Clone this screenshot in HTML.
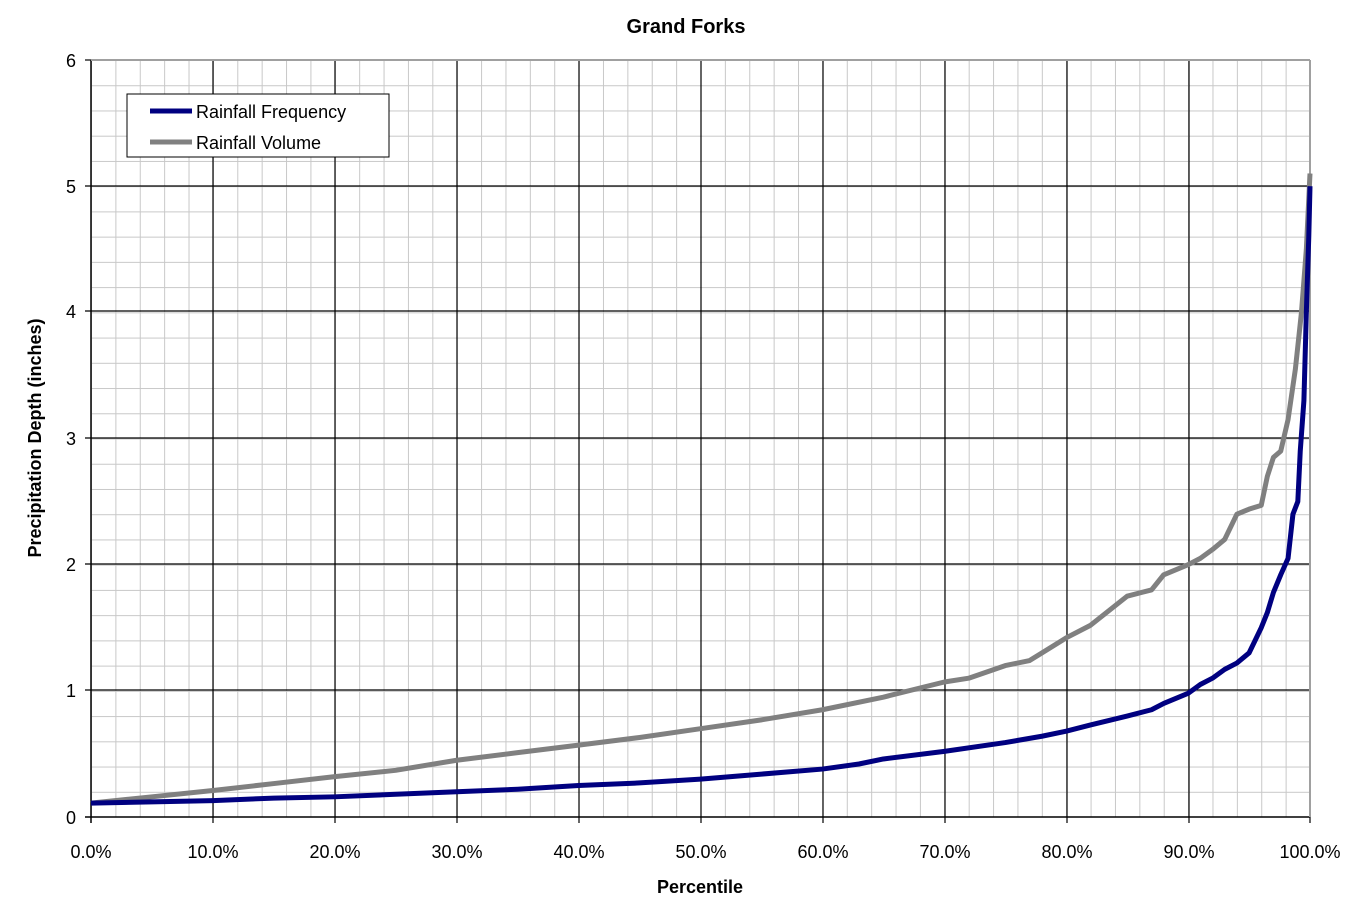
<!DOCTYPE html>
<html><head><meta charset="utf-8"><style>body{margin:0;background:#fff}svg{display:block;font-family:"Liberation Sans",Arial,sans-serif}</style></head>
<body>
<svg width="1357" height="916" viewBox="0 0 1357 916">
<defs>
<pattern id="minor" x="91" y="60" width="24.38" height="25.234" patternUnits="userSpaceOnUse">
<path d="M0 0V25.234M0 0H24.38" stroke="#c8c8c8" stroke-width="2" fill="none"/>
</pattern>
</defs>
<rect x="91" y="60" width="1219" height="757" fill="url(#minor)"/>
<g stroke="#000" stroke-width="1.2">
<line x1="213" y1="60" x2="213" y2="823"/><line x1="335" y1="60" x2="335" y2="823"/><line x1="457" y1="60" x2="457" y2="823"/><line x1="579" y1="60" x2="579" y2="823"/><line x1="701" y1="60" x2="701" y2="823"/><line x1="823" y1="60" x2="823" y2="823"/><line x1="945" y1="60" x2="945" y2="823"/><line x1="1067" y1="60" x2="1067" y2="823"/><line x1="1189" y1="60" x2="1189" y2="823"/><line x1="1310" y1="817" x2="1310" y2="823"/>
<line x1="85" y1="690" x2="1310" y2="690"/><line x1="85" y1="564" x2="1310" y2="564"/><line x1="85" y1="438" x2="1310" y2="438"/><line x1="85" y1="311" x2="1310" y2="311"/><line x1="85" y1="186" x2="1310" y2="186"/><line x1="85" y1="60" x2="91" y2="60"/>
<line x1="91" y1="60" x2="91" y2="823" stroke-width="1.5"/><line x1="85" y1="817" x2="1310" y2="817" stroke-width="1.5"/>
</g>
<line x1="91" y1="60" x2="1310" y2="60" stroke="#a0a0a0" stroke-width="2"/>
<line x1="1310" y1="60" x2="1310" y2="817" stroke="#a0a0a0" stroke-width="2"/>
<g transform="translate(91,817) scale(12.19,-126.17)" fill="none" stroke-width="5" stroke-linejoin="round">
<polyline vector-effect="non-scaling-stroke" stroke="#808080" points="0,0.11 5,0.16 10,0.21 15,0.265 20,0.32 25,0.37 30,0.45 35,0.51 40,0.57 45,0.63 50,0.7 55,0.77 60,0.85 65,0.95 70,1.07 72,1.1 75,1.2 77,1.24 78,1.3 80,1.42 82,1.52 85,1.75 87,1.8 88,1.92 90,2.0 91,2.05 92,2.12 93,2.2 94,2.4 95,2.44 96,2.47 96.5,2.7 97,2.85 97.6,2.9 98.2,3.15 98.8,3.55 99.3,4.0 99.7,4.5 100,5.1"/>
<polyline vector-effect="non-scaling-stroke" stroke="#000080" points="0,0.11 5,0.12 10,0.13 15,0.15 20,0.16 25,0.18 30,0.2 35,0.22 40,0.25 45,0.27 50,0.3 55,0.34 60,0.38 63,0.42 65,0.46 70,0.52 75,0.59 78,0.64 80,0.68 82,0.73 85,0.8 87,0.85 88,0.9 90,0.98 91,1.05 92,1.1 93,1.17 94,1.22 95,1.3 96,1.5 96.5,1.62 97,1.78 97.6,1.92 98.2,2.05 98.6,2.4 99,2.5 99.2,2.9 99.5,3.3 99.7,4.0 99.9,4.6 100,5.0"/>
</g>
<rect x="127" y="94" width="262" height="63" fill="#fff" stroke="#000" stroke-width="1"/>
<line x1="150" y1="111" x2="192" y2="111" stroke="#000080" stroke-width="5"/>
<line x1="150" y1="142" x2="192" y2="142" stroke="#808080" stroke-width="5"/>
<text x="196" y="118" font-size="18">Rainfall Frequency</text>
<text x="196" y="149" font-size="18">Rainfall Volume</text>
<text x="686" y="33" font-size="20" font-weight="bold" text-anchor="middle">Grand Forks</text>
<g font-size="18" text-anchor="end">
<text x="76" y="824">0</text><text x="76" y="697">1</text><text x="76" y="571">2</text><text x="76" y="445">3</text><text x="76" y="318">4</text><text x="76" y="193">5</text><text x="76" y="67">6</text>
</g>
<g font-size="18" text-anchor="middle">
<text x="91" y="858">0.0%</text><text x="213" y="858">10.0%</text><text x="335" y="858">20.0%</text><text x="457" y="858">30.0%</text><text x="579" y="858">40.0%</text><text x="701" y="858">50.0%</text><text x="823" y="858">60.0%</text><text x="945" y="858">70.0%</text><text x="1067" y="858">80.0%</text><text x="1189" y="858">90.0%</text><text x="1310" y="858">100.0%</text>
</g>
<text x="700" y="893" font-size="18" font-weight="bold" text-anchor="middle">Percentile</text>
<text transform="translate(41,438) rotate(-90)" font-size="18" font-weight="bold" text-anchor="middle">Precipitation Depth (inches)</text>
</svg>
</body></html>
